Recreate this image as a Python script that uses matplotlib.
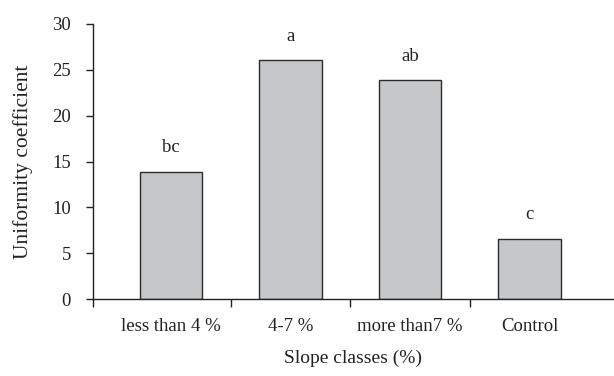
import numpy as np
import matplotlib
matplotlib.use("Agg")
import matplotlib.pyplot as plt

plt.rcParams['font.family'] = ['Liberation Serif', 'DejaVu Serif']

categories = ["less than 4 %", "4-7 %", "more than7 %", "Control"]
values = [13.9, 26.1, 23.85, 6.6]
letters = ["bc", "a", "ab", "c"]
yticks = [0, 5, 10, 15, 20, 25, 30]

fig = plt.figure(figsize=(6.14, 3.76), dpi=100)
ax = fig.add_axes([93 / 614, 1 - 299 / 376, 1 - 93 / 614, 275 / 376])

x = np.arange(len(categories))
ax.bar(x, values, width=0.52, color="#c6c7c9", edgecolor="#2b2b2b", linewidth=1.0, zorder=2)

for xi, v, lab in zip(x, values, letters):
    ax.annotate(lab, (xi, v), xytext=(0, 17), textcoords="offset points",
                ha="center", va="center", fontsize=13.5, color="#222222")

ax.set_xlim(-0.653, 3.707)
ax.set_ylim(0, 30)
ax.set_yticks(yticks)
ax.tick_params(axis="y", direction="out", length=5, width=1, labelsize=13.5, pad=11, colors="#222222")

# ticks between categories on the x axis
ax.set_xticks([-0.653, 0.5, 1.5, 2.5], labels=[""] * 4)
ax.set_xticks(x, labels=categories, minor=True)
ax.tick_params(axis="x", which="major", direction="out", length=6, width=1, color="#222222")
ax.tick_params(axis="x", which="minor", length=0, labelsize=13.5, pad=14, labelcolor="#222222")

for s in ["top", "right"]:
    ax.spines[s].set_visible(False)
for s in ["left", "bottom"]:
    ax.spines[s].set_linewidth(1.0)
    ax.spines[s].set_color("#222222")

ax.set_xlabel("Slope classes (%)", fontsize=14, labelpad=10, color="#222222")
ax.set_ylabel("Uniformity coefficient", fontsize=15.5, labelpad=14, color="#222222")

fig.savefig("out.png", dpi=100)
